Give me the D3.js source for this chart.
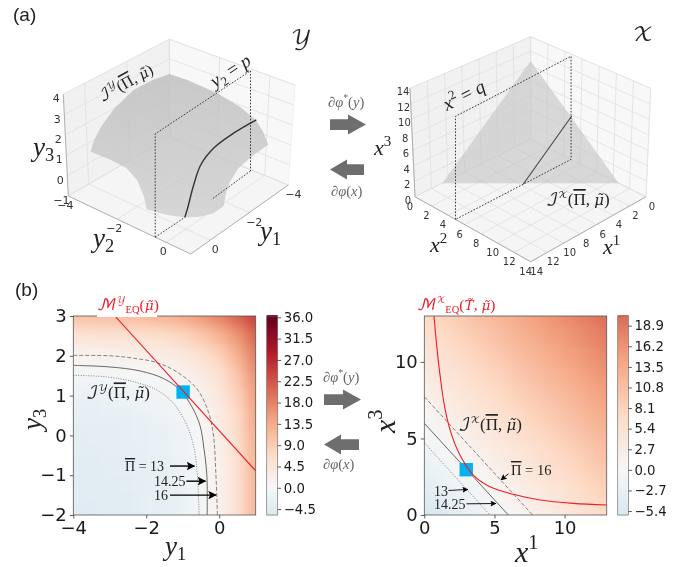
<!DOCTYPE html>
<html>
<head>
<meta charset="utf-8">
<script src="https://cdnjs.cloudflare.com/ajax/libs/d3/7.8.5/d3.min.js"></script>
<style>
body { margin: 0; background: #fff; }
svg { display: block; filter: blur(0.35px); }
text { font-family: "DejaVu Sans", sans-serif; fill: #222; }
.math { font-family: "Liberation Serif", "DejaVu Serif", serif; }
.script { font-family: "DejaVu Math TeX Gyre", "DejaVu Sans", serif; }
.accent { font-family: "DejaVu Serif", serif; }
.bar { font-family: "Liberation Serif", serif; text-decoration: overline; text-decoration-thickness: 0.7px; }
</style>
</head>
<body>
<div id="chart"></div>
<script>
// ---- data ----

// (a) left: y-space surface outline, walked round clockwise from the back corner
var surfaceY1 = [-4, -4, -4, -4, -4, -4, -4, -3.25, -2.5, -2.08, -1.9, -1.8, -1.26, -0.84, -0.5, -0.24, -0.07, -0.1, -0.1, -0.1, -0.1, -0.15, -0.35, -0.7, -1.36, -2.3, -3.22];
var surfaceY2 = [-4, -3.27, -2.08, -1.13, -0.5, -0.15, 0.08, 0.1, 0.1, 0.1, 0.1, 0.1, 0.115, -0.1, -0.445, -1.0, -1.67, -1.8, -2.07, -2.5, -3.17, -4, -4, -4, -4, -4, -4];
var surfaceY3 = [2.22, 2.26, 2.16, 1.92, 1.58, 1.12, 0.57, 0.55, 0.375, -0.02, -0.46, -1, -1, -1, -1, -1, -1, -0.455, 0.185, 0.535, 0.6, 0.52, 0.99, 1.46, 2.0, 2.39, 2.37];
var sliceY1 = [-4, -2.92, -1.93, -1.3, -0.9, -0.65, -0.5];
var sliceY3 = [1.58, 1.6, 1.46, 1.04, 0.16, -0.63, -1];
var sliceP = -0.45;
var ticks3dY = [-4, -2, 0];
var ticksY3 = [-1, 0, 1, 2, 3, 4];

// (a) right: x-space simplex
var simplexSum = 10.7;
var sliceQ = 4.9;
var ticks3dX = [0, 2, 4, 6, 8, 10, 12, 14];

// (b) left: potential on a half-unit grid, rows from y3 = 3 down to y3 = -2
var gridY1 = [-4, -3.5, -3, -2.5, -2, -1.5, -1, -0.5, 0, 0.5, 1];
var gridY3 = [3, 2.5, 2, 1.5, 1, 0.5, 0, -0.5, -1, -1.5, -2];
var fieldY = [
  [10.6, 10.7, 10.9, 11.2, 11.7, 12.4, 13.6, 15.4, 18.0, 21.0, 25.0],
  [5.0, 5.1, 5.3, 5.5, 5.97, 6.66, 7.8, 9.7, 12.4, 16.0, 21.0],
  [1.29, 1.37, 1.52, 1.75, 2.13, 2.76, 3.8, 5.5, 8.34, 12.6, 18.5],
  [-0.99, -0.91, -0.78, -0.55, -0.2, 0.39, 1.37, 2.97, 5.63, 9.99, 16.4],
  [-2.36, -2.29, -2.16, -1.95, -1.6, -1.04, -0.1, 1.45, 4.0, 8.2, 15.1],
  [-3.2, -3.12, -3.0, -2.79, -2.46, -1.9, -1.0, 0.52, 3.0, 7.1, 13.9],
  [-3.71, -3.64, -3.51, -3.31, -2.98, -2.43, -1.53, -0.05, 2.4, 6.4, 13.1],
  [-4.02, -3.95, -3.83, -3.62, -3.3, -2.76, -1.87, -0.4, 2.03, 6.0, 12.6],
  [-4.2, -4.13, -4.0, -3.8, -3.48, -2.95, -2.06, -0.6, 1.8, 5.8, 12.3],
  [-4.32, -4.25, -4.13, -3.93, -3.6, -3.07, -2.19, -0.73, 1.67, 5.6, 12.2],
  [-4.39, -4.32, -4.2, -4.0, -3.68, -3.15, -2.27, -0.81, 1.59, 5.53, 12.05]
];
var contourY16 = [[-4, 2.01], [-3, 2.0], [-2.35, 1.94], [-1.71, 1.83], [-1.17, 1.6], [-0.62, 1.18], [-0.3, 0.6], [-0.16, 0.01], [-0.09, -0.99], [-0.05, -2]];
var contourY14 = [[-4, 1.76], [-3, 1.72], [-2.17, 1.62], [-1.53, 1.43], [-1.07, 1.14], [-0.75, 0.72], [-0.53, 0.26], [-0.42, -0.32], [-0.34, -0.99], [-0.33, -2]];
var contourY13 = [[-4, 1.51], [-3.09, 1.47], [-2.35, 1.35], [-1.71, 1.14], [-1.26, 0.81], [-0.89, 0.26], [-0.69, -0.32], [-0.6, -0.99], [-0.55, -2]];
var redLineY = [[-2.86, 3], [1, -0.89]];
var markerY = [-0.99, 1.09];
var cbarTicksY = [-4.5, 0, 4.5, 9, 13.5, 18, 22.5, 27, 31.5, 36];

// (b) right: potential on a 1.3 grid, rows from x3 = 13 down to x3 = 0
var gridX1 = [0, 1.3, 2.6, 3.9, 5.2, 6.5, 7.8, 9.1, 10.4, 11.7, 13];
var gridX3 = [13, 11.7, 10.4, 9.1, 7.8, 6.5, 5.2, 3.9, 2.6, 1.3, 0];
var fieldX = [
  [7.0, 8.3, 9.6, 10.9, 12.2, 13.5, 14.8, 16.1, 17.4, 18.7, 20.0],
  [5.7, 7.0, 8.3, 9.6, 10.9, 12.2, 13.5, 14.8, 16.1, 17.4, 18.7],
  [4.4, 5.7, 7.0, 8.3, 9.6, 10.9, 12.2, 13.5, 14.8, 16.1, 17.4],
  [3.1, 4.4, 5.7, 7.0, 8.3, 9.6, 10.9, 12.2, 13.5, 14.8, 16.1],
  [1.8, 3.1, 4.4, 5.7, 7.0, 8.3, 9.6, 10.9, 12.2, 13.5, 14.8],
  [0.5, 1.8, 3.1, 4.4, 5.7, 7.0, 8.3, 9.6, 10.9, 12.2, 13.5],
  [-0.8, 0.5, 1.8, 3.1, 4.4, 5.7, 7.0, 8.3, 9.6, 10.9, 12.2],
  [-2.1, -0.8, 0.5, 1.8, 3.1, 4.4, 5.7, 7.0, 8.3, 9.6, 10.9],
  [-3.4, -2.1, -0.8, 0.5, 1.8, 3.1, 4.4, 5.7, 7.0, 8.3, 9.6],
  [-4.7, -3.4, -2.1, -0.8, 0.5, 1.8, 3.1, 4.4, 5.7, 7.0, 8.3],
  [-6.0, -4.7, -3.4, -2.1, -0.8, 0.5, 1.8, 3.1, 4.4, 5.7, 7.0]
];
var contourX16 = [[0, 7.73], [7.72, 0]];
var contourX14 = [[0, 5.99], [5.99, 0]];
var contourX13 = [[0, 4.72], [4.68, 0]];
var redCurveX = [[0.69, 13], [0.88, 11.1], [1.12, 9.15], [1.47, 6.97], [1.95, 5.23], [2.54, 3.92], [3.49, 2.61], [4.68, 1.85], [6.34, 1.35], [8.25, 0.98], [10.62, 0.76], [13, 0.65]];
var markerX = [2.99, 2.96];
var cbarTicksX = [-5.4, -2.7, 0, 2.7, 5.4, 8.1, 10.8, 13.5, 16.2, 18.9];

// RdBu stops, as the original colormap has them
var rdBuStops = ['#053061', '#2166ac', '#4393c3', '#92c5de', '#d1e5f0', '#f7f7f7', '#fddbc7', '#f4a582', '#d6604d', '#b2182b', '#67001f'];

var PI_BAR = '\u03A0', MU_TILDE = '\u03BC\u0303';

var width = 679, height = 567;
var LEVEL_STYLE = { dash: '4,2', solid: null, dot: '1,1.5' };

var svg = d3.select('#chart').append('svg')
  .attr('width', width)
  .attr('height', height)
  .style('background', '#fff');

var defs = svg.append('defs');

// blur the field cells into a smooth image, alpha snapped back so the edges stay solid
var smooth = defs.append('filter').attr('id', 'smooth')
  .attr('x', '-10%').attr('y', '-10%').attr('width', '120%').attr('height', '120%')
  .attr('color-interpolation-filters', 'sRGB');
smooth.append('feGaussianBlur').attr('stdDeviation', 6.5);
smooth.append('feComponentTransfer').append('feFuncA').attr('type', 'linear').attr('slope', 40);

// surface is a touch darker towards the back
var surfGrad = defs.append('linearGradient').attr('id', 'surfGrad').attr('x1', 0).attr('y1', 0).attr('x2', 0).attr('y2', 1);
surfGrad.append('stop').attr('offset', '0%').attr('stop-color', '#bcbcbc');
surfGrad.append('stop').attr('offset', '100%').attr('stop-color', '#cdcdcd');

function addHead(id, size) {
  defs.append('marker').attr('id', id)
    .attr('viewBox', '0 0 10 10').attr('refX', 9).attr('refY', 5)
    .attr('markerWidth', size).attr('markerHeight', size).attr('markerUnits', 'userSpaceOnUse')
    .attr('orient', 'auto')
    .append('path').attr('d', 'M0,0L10,5L0,10L2,5Z').attr('fill', '#000');
}
addHead('headL', 8.5);
addHead('headS', 6);

// mini math typesetter: [text, kind] pieces, kind = i italic, r roman, s script, a accented, b barred, ^ sup, _ sub
function mathText(parent, x, y, size, parts, opts) {
  opts = opts || {};
  var t = parent.append('text')
    .attr('class', 'math')
    .attr('x', x).attr('y', y)
    .attr('font-size', size)
    .attr('text-anchor', opts.anchor || 'start')
    .style('fill', opts.fill || '#222');
  if (opts.rotate !== undefined) t.attr('transform', 'rotate(' + opts.rotate + ',' + x + ',' + y + ')');
  var shift = 0;
  parts.forEach(function (p) {
    var kind = p[1] || 'r';
    var s = t.append('tspan').text(p[0]);
    var target = 0, scale = 1;
    if (kind.indexOf('^') === 0) { target = -0.42 * size; scale = 0.68; }
    if (kind.indexOf('_') === 0) { target = 0.2 * size; scale = 0.68; }
    if (kind.indexOf('a') >= 0) scale = 0.88;
    if (kind.indexOf('s') >= 0 && (kind.indexOf('^') === 0)) scale = 0.58;
    s.attr('font-size', size * scale).attr('dy', target - shift);
    shift = target;
    if (kind.indexOf('i') >= 0) s.style('font-style', 'italic');
    if (kind.indexOf('s') >= 0) s.attr('class', 'script');
    if (kind.indexOf('a') >= 0) s.attr('class', 'accent');
    if (kind.indexOf('b') >= 0) s.attr('class', 'bar');
  });
  return t;
}

// trilinear map of a data box onto its eight projected corners (good enough for the slight perspective)
function box3d(c, xDom, yDom, zDom) {
  var u = d3.scaleLinear().domain(xDom).range([0, 1]);
  var v = d3.scaleLinear().domain(yDom).range([0, 1]);
  var w = d3.scaleLinear().domain(zDom).range([0, 1]);
  function plane(p, a, b) {
    return [0, 1].map(function (k) {
      var near = p.back[k] + (p.left[k] - p.back[k]) * a;
      var far = p.right[k] + (p.front[k] - p.right[k]) * a;
      return near + (far - near) * b;
    });
  }
  return function (x, y, z) {
    var a = u(x), b = v(y), h = w(z);
    var f = plane(c.floor, a, b), t = plane(c.top, a, b);
    return [f[0] + (t[0] - f[0]) * h, f[1] + (t[1] - f[1]) * h];
  };
}

var line3d = d3.line();

function drawBox(g, p, xDom, yDom, zDom, xTicks, yTicks, zTicks) {
  var x0 = xDom[0], x1 = xDom[1], y0 = yDom[0], y1 = yDom[1], z0 = zDom[0], z1 = zDom[1];
  function poly(pts, fill) {
    g.append('path').attr('d', line3d(pts) + 'Z').attr('fill', fill).attr('stroke', '#eeeeee').attr('stroke-width', 0.8);
  }
  poly([p(x0, y0, z0), p(x1, y0, z0), p(x1, y0, z1), p(x0, y0, z1)], '#f1f1f1');
  poly([p(x0, y0, z0), p(x0, y1, z0), p(x0, y1, z1), p(x0, y0, z1)], '#f8f8f8');
  poly([p(x0, y0, z0), p(x1, y0, z0), p(x1, y1, z0), p(x0, y1, z0)], '#f5f5f5');
  var grid = [];
  xTicks.forEach(function (t) {
    grid.push([p(t, y0, z0), p(t, y1, z0)]);
    grid.push([p(t, y0, z0), p(t, y0, z1)]);
  });
  yTicks.forEach(function (t) {
    grid.push([p(x0, t, z0), p(x1, t, z0)]);
    grid.push([p(x0, t, z0), p(x0, t, z1)]);
  });
  zTicks.forEach(function (t) {
    grid.push([p(x0, y0, t), p(x1, y0, t)]);
    grid.push([p(x0, y0, t), p(x0, y1, t)]);
  });
  g.selectAll('path.grid').data(grid).enter().append('path')
    .attr('class', 'grid')
    .attr('d', line3d)
    .attr('fill', 'none')
    .attr('stroke', '#dfdfdf')
    .attr('stroke-width', 0.8);
  // outer edges of the floor and the vertical
  [[p(x1, y0, z0), p(x1, y1, z0)], [p(x0, y1, z0), p(x1, y1, z0)], [p(x1, y0, z0), p(x1, y0, z1)]].forEach(function (e) {
    g.append('path').attr('d', line3d(e)).attr('stroke', '#a8a8a8').attr('stroke-width', 0.9).attr('fill', 'none');
  });
}

function tickLabels(g, ticks, pos, dx, dy, size) {
  g.selectAll(null).data(ticks).enter().append('text')
    .attr('x', function (d) { return pos(d)[0] + dx; })
    .attr('y', function (d) { return pos(d)[1] + dy; })
    .attr('text-anchor', 'middle')
    .attr('dominant-baseline', 'middle')
    .attr('font-size', size)
    .style('fill', '#333')
    .text(function (d) { return d3.format('d')(d); });
}

function dotted(g, pts) {
  g.append('path').attr('d', line3d(pts)).attr('fill', 'none')
    .attr('stroke', '#222').attr('stroke-width', 0.9).attr('stroke-dasharray', '1.6,1.6');
}

// ****************** (a) left ******************
var gA = svg.append('g');
var domY12 = [-4, 1], domY3 = [-1, 4];
var pY = box3d({
  floor: { back: [170, 136.7], left: [68.3, 196], right: [288.3, 185], front: [190.7, 254] },
  top: { back: [169.3, 39.3], left: [63.3, 94.3], right: [295, 85], front: [190, 143] }
}, domY12, domY12, domY3);

drawBox(gA, pY, domY12, domY12, domY3, ticks3dY, ticks3dY, ticksY3);

gA.append('path')
  .attr('d', line3d(surfaceY1.map(function (d, i) { return pY(d, surfaceY2[i], surfaceY3[i]); })) + 'Z')
  .attr('fill', 'url(#surfGrad)').attr('fill-opacity', 0.78);

gA.append('path')
  .attr('d', d3.line().curve(d3.curveCatmullRom)(sliceY1.map(function (d, i) { return pY(d, sliceP, sliceY3[i]); })))
  .attr('fill', 'none').attr('stroke', '#333').attr('stroke-width', 1.4);

// y2 = p dotted frame, hand annotated in the original so its verticals are true screen verticals
var fa = pY(1, sliceP, -1), fb = pY(-4, sliceP, -1);
var ta = [fa[0], pY(1, sliceP, 3.77)[1]], tb = [fb[0] - 3.5, pY(-4, sliceP, 4.05)[1]];
fb = [fb[0] - 3.5, fb[1]];
dotted(gA, [fa, ta, tb, fb]);
dotted(gA, [fa, pY(-0.5, sliceP, -1)]);
dotted(gA, [fb, pY(-1.85, sliceP, -1)]);

tickLabels(gA, ticksY3, function (d) { return pY(1, -4, d); }, -7, 5, 11);
tickLabels(gA, ticks3dY, function (d) { return pY(1, d, -1); }, -3, 10, 11);
tickLabels(gA, ticks3dY, function (d) { return pY(d, 1, -1); }, 5, 10, 11);

mathText(gA, 33, 156, 27, [['y', 'i'], ['3', '_']]);
mathText(gA, 93, 247, 27, [['y', 'i'], ['2', '_']]);
mathText(gA, 260, 240, 27, [['y', 'i'], ['1', '_']]);
mathText(gA, 215, 88, 19, [['y', 'i'], ['2', '_'], [' = '], ['p', 'i']], { rotate: -33 });
mathText(gA, 102, 102, 16, [['\u2110', 's'], ['\uD835\uDCB4', '^s'], ['('], [PI_BAR, 'b'], [', '], [MU_TILDE, 'ia'], [')']], { rotate: -29 });
mathText(svg, 291, 44, 21, [['\uD835\uDCB4', 's']]);

// ****************** (a) right ******************
var gB = svg.append('g');
var domX = [0, 14];
var pX = box3d({
  floor: { back: [530.7, 139.3], left: [415, 196.7], right: [646, 196.7], front: [530.7, 261.7] },
  top: { back: [530.7, 36.7], left: [410, 88.3], right: [650.7, 88.3], front: [530.7, 146] }
}, domX, domX, domX);

drawBox(gB, pX, domX, domX, domX, ticks3dX, ticks3dX, ticks3dX);

gB.append('path')
  .attr('d', line3d([pX(simplexSum, 0, 0), pX(0, 0, simplexSum), pX(0, simplexSum, 0)]) + 'Z')
  .attr('fill', '#c6c6c6').attr('fill-opacity', 0.65);

gB.append('path')
  .attr('d', line3d([pX(simplexSum - sliceQ, sliceQ, 0), pX(0, sliceQ, simplexSum - sliceQ)]))
  .attr('fill', 'none').attr('stroke', '#444').attr('stroke-width', 1.1);

dotted(gB, [pX(14, sliceQ, 0), [pX(14, sliceQ, 0)[0], pX(14, sliceQ, 13)[1]], [pX(0, sliceQ, 0)[0], pX(0, sliceQ, 13.8)[1]], pX(0, sliceQ, 0), pX(14, sliceQ, 0)]);

tickLabels(gB, ticks3dX, function (d) { return pX(14, 0, d); }, -7, 4, 10);
tickLabels(gB, ticks3dX, function (d) { return pX(14, d, 0); }, -5, 10, 10);
tickLabels(gB, ticks3dX, function (d) { return pX(d, 14, 0); }, 6, 10, 10);

mathText(gB, 374, 155, 22, [['x', 'i'], ['3', '^']]);
mathText(gB, 430, 252, 22, [['x', 'i'], ['2', '^']]);
mathText(gB, 603, 254, 22, [['x', 'i'], ['1', '^']]);
mathText(gB, 447, 111, 19, [['x', 'i'], ['2', '^'], [' = '], ['q', 'i']], { rotate: -27 });
mathText(gB, 546, 205, 17, [['\u2110', 's'], ['\uD835\uDCB3', '^s'], ['('], [PI_BAR, 'b'], [', '], [MU_TILDE, 'ia'], [')']]);
mathText(svg, 633, 41, 21, [['\uD835\uDCB3', 's']]);

// ****************** (b) heatmaps ******************
var color = d3.scaleLinear()
  .domain(rdBuStops.map(function (d, i) { return -36 + i * 7.2; }))
  .range(rdBuStops);

function heatPanel(o) {
  var g = svg.append('g');
  var x = d3.scaleLinear().domain(o.xDom).range([o.left, o.right]);
  var y = d3.scaleLinear().domain(o.yDom).range([515, 316]);
  var clipId = 'clip' + o.id;
  defs.append('clipPath').attr('id', clipId).append('rect')
    .attr('x', o.left).attr('y', 316).attr('width', o.right - o.left).attr('height', 199);

  var cells = [];
  o.field.forEach(function (row, r) {
    row.forEach(function (v, c) { cells.push({ x: o.gridX[c], y: o.gridY[r], v: v }); });
  });
  var dx = (o.gridX[1] - o.gridX[0]) / 2, dy = (o.gridY[0] - o.gridY[1]) / 2;
  g.append('g').attr('clip-path', 'url(#' + clipId + ')')
    .append('g').attr('filter', 'url(#smooth)')
    .selectAll('rect').data(cells).enter().append('rect')
    .attr('x', function (d) { return x(d.x - dx); })
    .attr('y', function (d) { return y(d.y + dy); })
    .attr('width', x(o.xDom[0] + 2 * dx) - x(o.xDom[0]) + 0.5)
    .attr('height', y(o.yDom[0]) - y(o.yDom[0] + 2 * dy) + 0.5)
    .attr('fill', function (d) { return color(d.v); });

  var curve = d3.line().curve(d3.curveCatmullRom).x(function (d) { return x(d[0]); }).y(function (d) { return y(d[1]); });
  var plot = g.append('g').attr('clip-path', 'url(#' + clipId + ')');
  o.contours.forEach(function (c) {
    plot.append('path').attr('d', curve(c.pts)).attr('fill', 'none')
      .attr('stroke', '#666').attr('stroke-width', c.w).attr('stroke-dasharray', LEVEL_STYLE[c.style]);
  });
  plot.append('rect')
    .attr('x', x(o.marker[0]) - 6.7).attr('y', y(o.marker[1]) - 6.7)
    .attr('width', 13.4).attr('height', 13.4).attr('fill', '#00b2f2');
  plot.append('path').attr('d', curve(o.red)).attr('fill', 'none').attr('stroke', '#f01c24').attr('stroke-width', 1.1);

  // frame + axes
  g.append('rect').attr('x', o.left).attr('y', 316).attr('width', o.right - o.left).attr('height', 199)
    .attr('fill', 'none').attr('stroke', '#555').attr('stroke-width', 0.8);
  var ax = g.append('g').attr('transform', 'translate(0,515)')
    .call(d3.axisBottom(x).tickValues(o.xTicks).tickSize(3.5).tickPadding(3).tickFormat(d3.format('d')));
  var ay = g.append('g').attr('transform', 'translate(' + o.left + ',0)')
    .call(d3.axisLeft(y).tickValues(o.yTicks).tickSize(3.5).tickPadding(3).tickFormat(d3.format('d')));
  [ax, ay].forEach(function (a) {
    a.select('.domain').remove();
    a.selectAll('text').attr('font-size', 18).style('font-family', '"DejaVu Sans"').style('fill', '#1a1a1a');
    a.selectAll('line').attr('stroke', '#333').attr('stroke-width', 0.8);
  });

  // colorbar
  var cb = d3.scaleLinear().domain(o.cbarDom).range([515, 316]);
  var steps = d3.range(0, 200).map(function (i) { return o.cbarDom[0] + (o.cbarDom[1] - o.cbarDom[0]) * i / 199; });
  g.append('g').selectAll('rect').data(steps).enter().append('rect')
    .attr('x', o.cbarX).attr('width', o.cbarW)
    .attr('y', function (d) { return cb(d) - 1; })
    .attr('height', 1.6)
    .attr('fill', function (d) { return color(d); });
  g.append('rect').attr('x', o.cbarX).attr('y', 316).attr('width', o.cbarW).attr('height', 199)
    .attr('fill', 'none').attr('stroke', '#777').attr('stroke-width', 0.7);
  var ac = g.append('g').attr('transform', 'translate(' + (o.cbarX + o.cbarW) + ',0)')
    .call(d3.axisRight(cb).tickValues(o.cbarTicks).tickSize(3.5).tickPadding(2.5).tickFormat(d3.format('.1f')));
  ac.select('.domain').remove();
  ac.selectAll('text').attr('font-size', 13.3).style('font-family', '"DejaVu Sans"').style('fill', '#1a1a1a');
  ac.selectAll('line').attr('stroke', '#333').attr('stroke-width', 0.8);

  return { g: g, x: x, y: y };
}

function arrow(g, x0, y0, x1, y1, w, head) {
  g.append('line').attr('x1', x0).attr('y1', y0).attr('x2', x1).attr('y2', y1)
    .attr('stroke', '#000').attr('stroke-width', w).attr('marker-end', 'url(#' + head + ')');
}

var left = heatPanel({
  id: 'y', left: 73.3, right: 255.7, xDom: [-4, 1], yDom: [-2, 3],
  field: fieldY, gridX: gridY1, gridY: gridY3,
  contours: [
    { pts: contourY16, style: 'dash', w: 0.8 },
    { pts: contourY14, style: 'solid', w: 1 },
    { pts: contourY13, style: 'dot', w: 0.8 }
  ],
  red: redLineY, marker: markerY,
  xTicks: [-4, -2, 0], yTicks: [-2, -1, 0, 1, 2, 3],
  cbarX: 266.7, cbarW: 11, cbarDom: [-5.75, 36.28], cbarTicks: cbarTicksY
});

var right = heatPanel({
  id: 'x', left: 424.3, right: 606.7, xDom: [0, 13], yDom: [0, 13],
  field: fieldX, gridX: gridX1, gridY: gridX3,
  contours: [
    { pts: contourX16, style: 'dash', w: 0.8 },
    { pts: contourX14, style: 'solid', w: 1 },
    { pts: contourX13, style: 'dot', w: 0.8 }
  ],
  red: redCurveX, marker: markerX,
  xTicks: [0, 5, 10], yTicks: [0, 5, 10],
  cbarX: 617.7, cbarW: 10.7, cbarDom: [-5.92, 20.17], cbarTicks: cbarTicksX
});

// left panel annotations
var lx = left.x, ly = left.y, lg = left.g;
svg.append('rect').attr('x', 97).attr('y', 296).attr('width', 60).attr('height', 21).attr('fill', '#fff');
mathText(svg, 97, 310, 15.5, [['\u2133', 's'], ['\uD835\uDCB4', '^s'], ['EQ', '_'], ['('], [MU_TILDE, 'ia'], [')']], { fill: '#f01c24' });
mathText(lg, lx(-3.65), ly(0.93), 17, [['\u2110', 's'], ['\uD835\uDCB4', '^s'], ['('], [PI_BAR, 'b'], [', '], [MU_TILDE, 'ia'], [')']]);
mathText(lg, 125, 471, 14, [[PI_BAR, 'b'], [' = 13']]);
mathText(lg, 154, 486, 14, [['14.25']]);
mathText(lg, 154, 500, 14, [['16']]);
arrow(lg, lx(-1.35), ly(-0.77), lx(-0.68), ly(-0.77), 1.4, 'headL');
arrow(lg, lx(-0.9), ly(-1.15), lx(-0.38), ly(-1.15), 1.4, 'headL');
arrow(lg, lx(-1.35), ly(-1.5), lx(-0.09), ly(-1.5), 1.4, 'headL');

// right panel annotations
var rx = right.x, ry = right.y, rg = right.g;
mathText(svg, 417, 310, 15.5, [['\u2133', 's'], ['\uD835\uDCB3', '^s'], ['EQ', '_'], ['('], ['T\u0303', 'ia'], [', '], [MU_TILDE, 'ia'], [')']], { fill: '#f01c24' });
mathText(rg, rx(2.42), ry(5.55), 17, [['\u2110', 's'], ['\uD835\uDCB3', '^s'], ['('], [PI_BAR, 'b'], [', '], [MU_TILDE, 'ia'], [')']]);
mathText(rg, 511, 475, 14.5, [[PI_BAR, 'b'], [' = 16']]);
mathText(rg, 434, 496, 14, [['13']]);
mathText(rg, 434, 509, 14, [['14.25']]);
arrow(rg, rx(1.72), ry(1.6), rx(3.1), ry(1.67), 0.9, 'headS');
arrow(rg, rx(3.0), ry(0.73), rx(5.1), ry(0.75), 0.9, 'headS');
arrow(rg, rx(6.0), ry(2.7), rx(5.47), ry(2.3), 0.9, 'headS');

// centre block arrows and their labels
function blockArrow(tip, base, tail, y) {
  var pts = [[tail, y - 5.4], [base, y - 5.4], [base, y - 10], [tip, y], [base, y + 10], [base, y + 5.4], [tail, y + 5.4]];
  svg.append('path').attr('d', d3.line()(pts) + 'Z').attr('fill', '#6e6e6e');
}
blockArrow(366, 348, 330, 124.6);
blockArrow(330, 347, 364, 169.6);
blockArrow(361, 343, 324, 399.6);
blockArrow(324, 341, 359, 444.6);

var GREY = '#666';
function phiStar(x, y) {
  mathText(svg, x, y, 14.5, [['\u2202\u03C6', 'i'], ['*', '^'], ['('], ['y', 'i'], [')']], { fill: GREY });
}
function phi(x, y) {
  mathText(svg, x, y, 14.5, [['\u2202\u03C6', 'i'], ['('], ['x', 'i'], [')']], { fill: GREY });
}
phiStar(328, 107);
phi(331, 196);
phiStar(323, 382);
phi(323, 469);

// panel letters
svg.append('text').attr('x', 13).attr('y', 21).attr('font-size', 19).style('font-family', '"Liberation Sans", sans-serif').text('(a)');
svg.append('text').attr('x', 15).attr('y', 296).attr('font-size', 19).style('font-family', '"Liberation Sans", sans-serif').text('(b)');

// big axis labels of the heatmaps
mathText(svg, 165, 555, 27, [['y', 'i'], ['1', '_']]);
mathText(svg, 41, 430, 27, [['y', 'i'], ['3', '_']], { rotate: -90 });
mathText(svg, 515, 562, 30, [['x', 'i'], ['1', '^']]);
mathText(svg, 395, 433, 30, [['x', 'i'], ['3', '^']], { rotate: -90 });
</script>
</body>
</html>
